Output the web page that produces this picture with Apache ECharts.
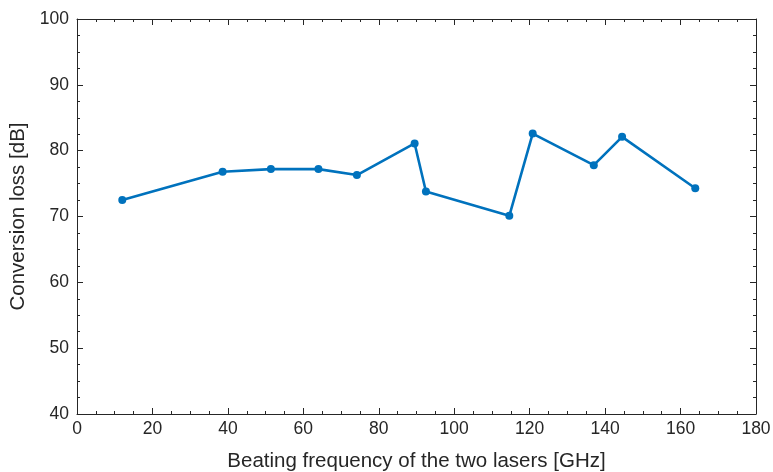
<!DOCTYPE html>
<html>
<head>
<meta charset="utf-8">
<script src="https://cdn.jsdelivr.net/npm/echarts@6/dist/echarts.min.js"></script>
<style>html,body{margin:0;padding:0;background:#fff;}#c{width:773px;height:472px;}</style>
</head>
<body>
<div id="c"></div>
<script>
const freqGHz = [12.0, 38.6, 51.4, 64.0, 74.2, 89.5, 92.5, 114.6, 120.8, 137.0, 144.5, 163.9];
const lossDB  = [72.5, 76.8, 77.2, 77.2, 76.3, 81.1, 73.8, 70.1, 82.6, 77.8, 82.1, 74.3];
const xLabel = 'Beating frequency of the two lasers [GHz]';
const yLabel = 'Conversion loss [dB]';

const axisColor = '#262626';
const font = 'Liberation Sans, Arial, Helvetica, sans-serif';
const chart = echarts.init(document.getElementById('c'));

function mkX(pos, showLabel, nameText) {
  return {
    type: 'value', position: pos, min: 0, max: 180, interval: 20,
    axisLine: {show: true, onZero: false, lineStyle: {color: axisColor, width: 1}},
    axisTick: {show: true, inside: true, length: 6, lineStyle: {color: axisColor}},
    minorTick: {show: true, splitNumber: 4, length: 3, lineStyle: {color: axisColor}},
    axisLabel: {show: showLabel, color: axisColor, fontSize: 17.5, fontFamily: font, margin: 6},
    splitLine: {show: false},
    name: nameText, nameLocation: 'middle', nameGap: 37,
    nameTextStyle: {color: axisColor, fontSize: 20.5, fontFamily: font}
  };
}
function mkY(pos, showLabel, nameText) {
  return {
    type: 'value', position: pos, min: 40, max: 100, interval: 10,
    axisLine: {show: true, onZero: false, lineStyle: {color: axisColor, width: 1}},
    axisTick: {show: true, inside: true, length: 6, lineStyle: {color: axisColor}},
    minorTick: {show: true, splitNumber: 4, length: 3, lineStyle: {color: axisColor}},
    axisLabel: {show: showLabel, color: axisColor, fontSize: 17.5, fontFamily: font, margin: 8},
    splitLine: {show: false},
    name: nameText, nameLocation: 'middle', nameGap: 40,
    nameTextStyle: {color: axisColor, fontSize: 20.5, fontFamily: font}
  };
}

chart.setOption({
  animation: false,
  backgroundColor: '#ffffff',
  grid: {left: 77, top: 19, width: 679, height: 395, containLabel: false, outerBoundsMode: 'none'},
  xAxis: [mkX('bottom', true, xLabel), mkX('top', false, '')],
  yAxis: [mkY('left', true, yLabel), mkY('right', false, '')],
  series: [{
    type: 'line',
    data: freqGHz.map((x, i) => [x, lossDB[i]]),
    xAxisIndex: 0, yAxisIndex: 0,
    lineStyle: {color: '#0072BD', width: 2.6},
    itemStyle: {color: '#0072BD'},
    symbol: 'circle', symbolSize: 8,
    showSymbol: true
  }]
});
</script>
</body>
</html>
